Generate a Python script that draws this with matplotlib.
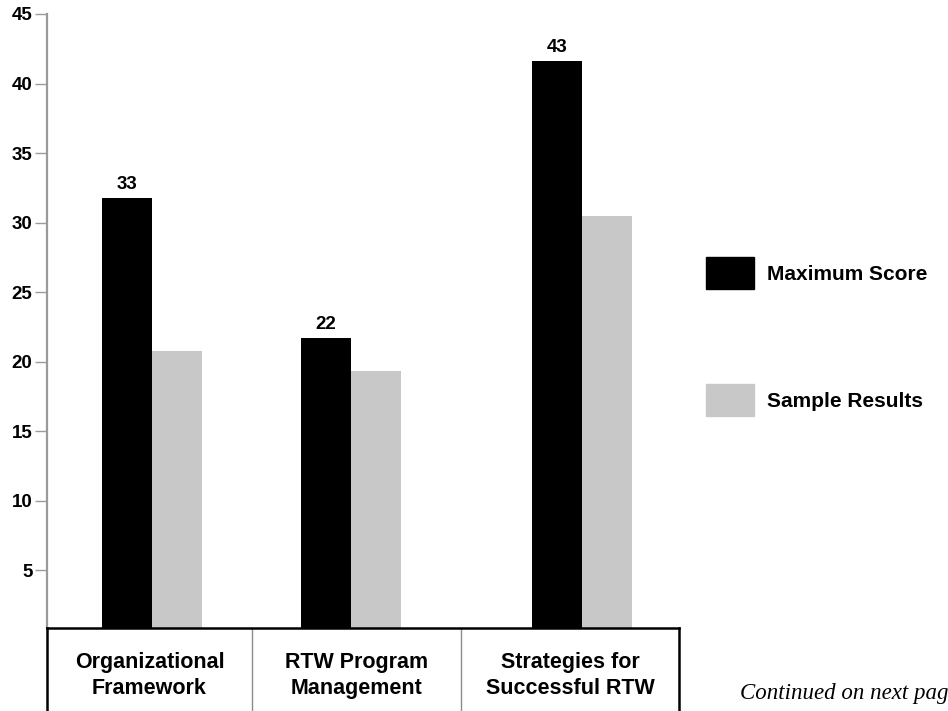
import matplotlib.pyplot as plt
from matplotlib.patches import Patch

# values as drawn on the chart
categories = ['Organizational\nFramework', 'RTW Program\nManagement', 'Strategies for\nSuccessful RTW']
max_score = [31.8, 21.7, 41.6]
sample_results = [20.8, 19.3, 30.5]
max_labels = ['33', '22', '43']
yticks = [5, 10, 15, 20, 25, 30, 35, 40, 45]

base = 0.85
pos = [0, 1, 2.16]
w = 0.251
black = '#000000'
grey = '#c8c8c8'

plt.rcParams['font.family'] = ['Liberation Sans', 'DejaVu Sans']
plt.rcParams['font.weight'] = 'bold'

fig = plt.figure(figsize=(9.48, 7.11), dpi=100)
W, H = 948, 711

# main plot area
ax = fig.add_axes([47 / W, (H - 628) / H, (679 - 47) / W, (628 - 14) / H])
ax.bar([p - w / 2 for p in pos], [v - base for v in max_score], w, bottom=base, color=black)
ax.bar([p + w / 2 for p in pos], [v - base for v in sample_results], w, bottom=base, color=grey)
for p, v, t in zip(pos, max_score, max_labels):
    ax.text(p - w / 2, v + 0.35, t, ha='center', va='bottom', fontsize=13.5, fontweight='bold')

ax.set_xlim(-0.528, 2.648)
ax.set_ylim(base, 45)
ax.set_yticks(yticks)
ax.set_yticklabels([str(t) for t in yticks], fontsize=13.5, fontweight='bold')
ax.set_xticks([])
for s in ['top', 'right', 'bottom']:
    ax.spines[s].set_visible(False)
ax.spines['left'].set_color('#9a9a9a')
ax.spines['left'].set_linewidth(1.6)
ax.tick_params(axis='y', length=8.5, width=1, color='#9a9a9a', pad=2)

# category box under the plot
bx = fig.add_axes([47 / W, 0, (679 - 47) / W, (711 - 628) / H])
bx.set_xlim(0, 1)
bx.set_ylim(0, 1)
bx.set_xticks([])
bx.set_yticks([])
bx.spines['bottom'].set_visible(False)
for s in ['top', 'left', 'right']:
    bx.spines[s].set_color('black')
    bx.spines[s].set_linewidth(1.8)
bounds = [0, (252 - 47) / 632, (461 - 47) / 632, 1]
for b in bounds[1:3]:
    bx.axvline(b, color='#8c8c8c', lw=1)
for i, c in enumerate(categories):
    bx.text((bounds[i] + bounds[i + 1]) / 2, 0.43, c, ha='center', va='center',
            fontsize=15.5, fontweight='bold', linespacing=1.32)

# legend
handles = [Patch(color=black, label='Maximum Score'), Patch(color=grey, label='Sample Results')]
fig.legend(handles=handles, loc='upper left', bbox_to_anchor=(706 / W, 1 - 257 / H),
           frameon=False, handlelength=2.3, handleheight=1.99,
           labelspacing=4.57, handletextpad=0.65, borderpad=0, borderaxespad=0,
           prop={'weight': 'bold', 'size': 15})

fig.text(740 / W, 1 - 693 / H, 'Continued on next page', family='Liberation Serif',
         style='italic', fontweight='normal', fontsize=16.5, va='center')

fig.savefig('out.png', dpi=100)
